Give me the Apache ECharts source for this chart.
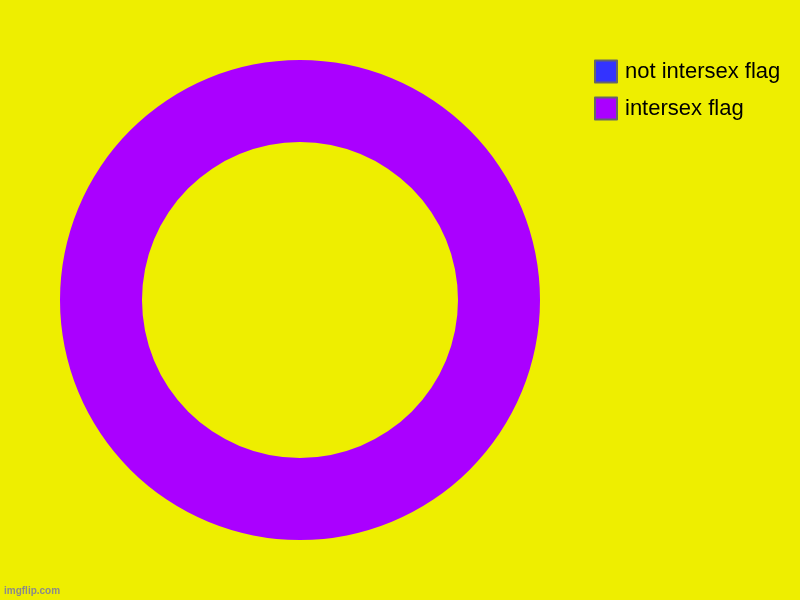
<!DOCTYPE html>
<html><head><meta charset="utf-8">
<script src="https://cdn.jsdelivr.net/npm/echarts@6/dist/echarts.min.js"></script>
<style>html,body{margin:0;padding:0;background:#EEEE00}#c{width:800px;height:600px}</style>
</head><body><div id="c"></div>
<script>
const categories = ['not intersex flag', 'intersex flag'];
const values = [0, 100];
const colors = ['#3333FF', '#AA00FF'];

const chart = echarts.init(document.getElementById('c'));
chart.setOption({
  backgroundColor: '#EEEE00',
  animation: false,
  legend: {
    orient: 'vertical', left: 589, top: 54,
    itemWidth: 22, itemHeight: 22, itemGap: 12,
    icon: 'rect',
    data: categories,
    itemStyle: { borderColor: '#666666', borderWidth: 2 },
    textStyle: { fontSize: 22, lineHeight: 22, color: '#000', fontFamily: 'Liberation Sans, Arial, sans-serif', padding: [3, 0, 0, 3] }
  },
  graphic: [{
    type: 'text', left: 4, top: 586,
    style: { text: 'imgflip.com', fill: '#8a8a8a', font: 'bold 10px Liberation Sans, Arial, sans-serif' }
  }],
  series: [{
    type: 'pie',
    center: [300, 300],
    radius: [158, 240],
    startAngle: 90,
    label: { show: false },
    labelLine: { show: false },
    emphasis: { disabled: true },
    itemStyle: { borderWidth: 0 },
    data: categories.map((n, i) => ({ name: n, value: values[i], itemStyle: { color: colors[i] } }))
  }]
});
</script></body></html>
